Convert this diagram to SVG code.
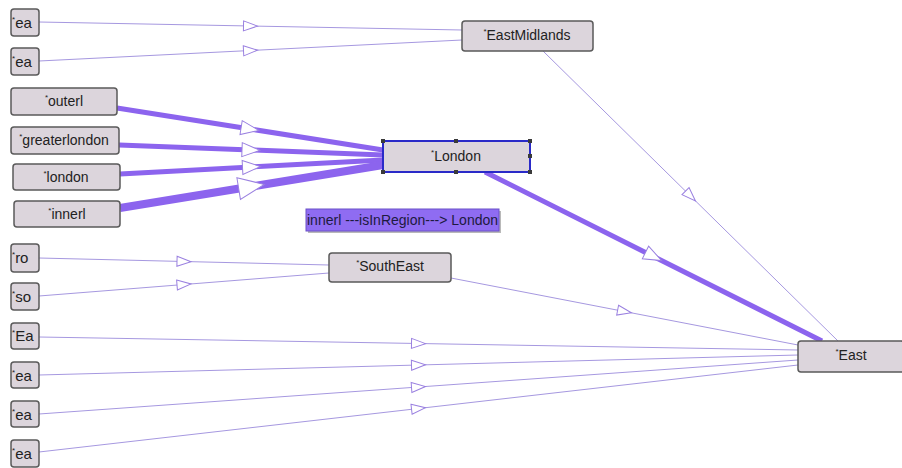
<svg xmlns="http://www.w3.org/2000/svg" width="902" height="468" viewBox="0 0 902 468">
  <style>
    .node rect.box { fill: #dcd5dc; stroke: #5a5a5a; stroke-width: 1.5; }
    .node text { font-family: "Liberation Sans", Arial, sans-serif; font-size: 14px; fill: #222; }
    .node text.sm { font-size: 15px; }
    .star { font-size: 8px; }
    .thin { fill: none; stroke: #a698e0; stroke-width: 1; marker-mid: url(#arrS); }
    .mid { fill: none; stroke: #8c64ee; stroke-width: 5; marker-mid: url(#arrM); }
    .wide { fill: none; stroke: #8c64ee; stroke-width: 8; marker-mid: url(#arrL); }
    .handle { fill: #3a3a3a; }
  </style>
  <defs>
    <marker id="arrS" markerUnits="userSpaceOnUse" markerWidth="16" markerHeight="12" viewBox="0 0 16 12" refX="8" refY="6" orient="auto" overflow="visible">
      <path d="M1,1 L15,6 L1,11 Z" fill="#fff" stroke="#9a80e0" stroke-width="1"/>
    </marker>
    <marker id="arrM" markerUnits="userSpaceOnUse" markerWidth="20" markerHeight="16" viewBox="0 0 20 16" refX="10" refY="8" orient="auto" overflow="visible">
      <path d="M1,1 L19,8 L1,15 Z" fill="#fff" stroke="#9a80e0" stroke-width="1"/>
    </marker>
    <marker id="arrL" markerUnits="userSpaceOnUse" markerWidth="28" markerHeight="24" viewBox="0 0 28 24" refX="14" refY="12" orient="auto" overflow="visible">
      <path d="M1,1 L27,12 L1,23 Z" fill="#fff" stroke="#9a80e0" stroke-width="1"/>
    </marker>
  </defs>

  <!-- connectors -->
  <g id="edges">
    <polyline class="thin" points="39,22 250.5,26 462,30"/>
    <polyline class="thin" points="39,61 250.5,50.5 462,40"/>
    <polyline class="mid" points="117,108 250,129 383,150"/>
    <polyline class="mid" points="119,145 251,150 383,155"/>
    <polyline class="mid" points="120,174 251.5,167 383,160"/>
    <polyline class="wide" points="120,208 251.5,186.5 383,165"/>
    <polyline class="mid" points="485,172 653.5,256.5 822,341"/>
    <polyline class="thin" points="543,51 690.5,196 838,341"/>
    <polyline class="thin" points="39,258 184,261.5 329,265"/>
    <polyline class="thin" points="39,296 184,284.5 329,273"/>
    <polyline class="thin" points="451,278 624.5,311.5 798,345"/>
    <polyline class="thin" points="39,337 418.5,343.5 798,350"/>
    <polyline class="thin" points="39,375 418.5,365 798,355"/>
    <polyline class="thin" points="39,414 418.5,387 798,360"/>
    <polyline class="thin" points="39,452 418.5,408.5 798,365"/>
  </g>

  <!-- nodes -->
  <g id="n-ea1" class="node">
    <rect class="box" x="11" y="9" width="28" height="27" rx="3"/>
    <text class="sm" x="12" y="28"><tspan class="star" dy="-6">*</tspan><tspan dy="6">ea</tspan></text>
  </g>
  <g id="n-ea2" class="node">
    <rect class="box" x="11" y="48" width="28" height="27" rx="3"/>
    <text class="sm" x="12" y="67"><tspan class="star" dy="-6">*</tspan><tspan dy="6">ea</tspan></text>
  </g>
  <g id="n-outerl" class="node">
    <rect class="box" x="11" y="88" width="106" height="27" rx="3"/>
    <text x="64" y="106" text-anchor="middle"><tspan class="star" dy="-6">*</tspan><tspan dy="6">outerl</tspan></text>
  </g>
  <g id="n-greaterlondon" class="node">
    <rect class="box" x="11" y="127" width="108" height="27" rx="3"/>
    <text x="64" y="145" text-anchor="middle"><tspan class="star" dy="-6">*</tspan><tspan dy="6">greaterlondon</tspan></text>
  </g>
  <g id="n-london" class="node">
    <rect class="box" x="13" y="164" width="107" height="26" rx="3"/>
    <text x="66" y="182" text-anchor="middle"><tspan class="star" dy="-6">*</tspan><tspan dy="6">london</tspan></text>
  </g>
  <g id="n-innerl" class="node">
    <rect class="box" x="14" y="201" width="106" height="26" rx="3"/>
    <text x="67" y="219" text-anchor="middle"><tspan class="star" dy="-6">*</tspan><tspan dy="6">innerl</tspan></text>
  </g>
  <g id="n-EastMidlands" class="node">
    <rect class="box" x="462" y="21" width="131" height="30" rx="3"/>
    <text x="527" y="40" text-anchor="middle"><tspan class="star" dy="-6">*</tspan><tspan dy="6">EastMidlands</tspan></text>
  </g>
  <g id="n-London" class="node">
    <rect class="box" x="383" y="141" width="147" height="31" style="stroke:#2a2ac8;stroke-width:2"/>
    <text x="456" y="161" text-anchor="middle"><tspan class="star" dy="-6">*</tspan><tspan dy="6">London</tspan></text>
    <rect class="handle" x="381" y="139" width="4" height="4"/>
    <rect class="handle" x="454" y="139" width="4" height="4"/>
    <rect class="handle" x="528" y="139" width="4" height="4"/>
    <rect class="handle" x="528" y="154" width="4" height="4"/>
    <rect class="handle" x="528" y="170" width="4" height="4"/>
    <rect class="handle" x="454" y="170" width="4" height="4"/>
    <rect class="handle" x="381" y="170" width="4" height="4"/>
  </g>
  <g id="n-SouthEast" class="node">
    <rect class="box" x="329" y="253" width="122" height="29" rx="3"/>
    <text x="390" y="271" text-anchor="middle"><tspan class="star" dy="-6">*</tspan><tspan dy="6">SouthEast</tspan></text>
  </g>
  <g id="n-ro" class="node">
    <rect class="box" x="11" y="244" width="28" height="28" rx="3"/>
    <text class="sm" x="12" y="263"><tspan class="star" dy="-6">*</tspan><tspan dy="6">ro</tspan></text>
  </g>
  <g id="n-so" class="node">
    <rect class="box" x="11" y="283" width="28" height="27" rx="3"/>
    <text class="sm" x="12" y="302"><tspan class="star" dy="-6">*</tspan><tspan dy="6">so</tspan></text>
  </g>
  <g id="n-Ea" class="node">
    <rect class="box" x="11" y="323" width="28" height="26" rx="3"/>
    <text class="sm" x="12" y="341"><tspan class="star" dy="-6">*</tspan><tspan dy="6">Ea</tspan></text>
  </g>
  <g id="n-ea3" class="node">
    <rect class="box" x="11" y="362" width="28" height="26" rx="3"/>
    <text class="sm" x="12" y="381"><tspan class="star" dy="-6">*</tspan><tspan dy="6">ea</tspan></text>
  </g>
  <g id="n-ea4" class="node">
    <rect class="box" x="11" y="401" width="28" height="26" rx="3"/>
    <text class="sm" x="12" y="420"><tspan class="star" dy="-6">*</tspan><tspan dy="6">ea</tspan></text>
  </g>
  <g id="n-ea5" class="node">
    <rect class="box" x="11" y="440" width="28" height="27" rx="3"/>
    <text class="sm" x="12" y="459"><tspan class="star" dy="-6">*</tspan><tspan dy="6">ea</tspan></text>
  </g>
  <g id="n-East" class="node">
    <rect class="box" x="798" y="341" width="106" height="31" rx="3"/>
    <text x="851" y="360" text-anchor="middle"><tspan class="star" dy="-6">*</tspan><tspan dy="6">East</tspan></text>
  </g>

  <!-- hover label with drop shadow -->
  <g id="tooltip">
    <rect x="308" y="211" width="193" height="22" fill="#8a8a8a" opacity="0.6"/>
    <rect x="306" y="209" width="193" height="22" fill="#8f6cf2" stroke="#6a50c8" stroke-width="1"/>
    <text x="307" y="225" font-family="Liberation Sans, Arial, sans-serif" font-size="14" fill="#1d1a40">innerl ---isInRegion---&gt; London</text>
  </g>
</svg>
